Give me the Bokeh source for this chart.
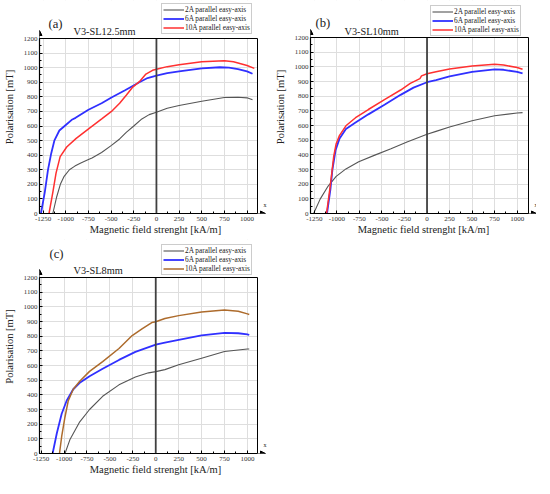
from bokeh.plotting import figure
from bokeh.models import (Legend, LegendItem, Label, SingleIntervalTicker, Range1d, Arrow,
                          NormalHead, BoxAnnotation, NumeralTickFormatter)
from bokeh.layouts import column, row
from bokeh.embed import file_html
from bokeh.resources import INLINE

FONT = "Liberation Serif"
Y0, Y1 = 0, 1200

# ---------------- data (a) V3-SL12.5mm ----------------
a_2A_h = [-1143, -1100, -1060, -1018, -960, -900, -840, -750, -711, -605, -496, -406, -333, -250, -170, -80, 0, 119, 250, 500, 750, 900, 1000, 1060]
a_2A_j = [0, 115, 200, 255, 300, 325, 345, 370, 380, 418, 467, 511, 556, 600, 644, 678, 694, 722, 740, 770, 795, 797, 793, 780]
a_6A_h = [-1274, -1232, -1196, -1161, -1125, -1071, -1000, -928, -892, -750, -605, -496, -351, -188, -98, 0, 119, 250, 500, 700, 800, 900, 1000, 1060]
a_6A_j = [0, 145, 301, 412, 502, 569, 607, 645, 656, 711, 756, 795, 844, 900, 929, 946, 962, 975, 995, 1003, 1000, 990, 975, 958]
a_10A_h = [-1185, -1143, -1107, -1062, -990, -885, -745, -600, -496, -406, -333, -261, -188, -116, -43, 0, 119, 250, 500, 750, 850, 1000, 1080]
a_10A_j = [0, 145, 279, 390, 456, 515, 582, 650, 700, 756, 811, 867, 904, 956, 982, 989, 1007, 1020, 1040, 1048, 1040, 1015, 995]

# ---------------- data (b) V3-SL10mm ----------------
b_2A_h = [-1258, -1186, -1097, -1008, -900, -758, -579, -400, -222, 0, 100, 250, 500, 750, 1000, 1060]
b_2A_j = [0, 98, 187, 253, 304, 353, 398, 442, 487, 540, 560, 590, 632, 667, 685, 688]
b_6A_h = [-1110, -1072, -1050, -1015, -972, -900, -793, -651, -472, -293, -150, 0, 100, 250, 500, 750, 850, 1000, 1060]
b_6A_j = [0, 164, 298, 431, 509, 576, 620, 676, 742, 809, 858, 895, 910, 935, 965, 982, 980, 965, 955]
b_10A_h = [-1115, -1079, -1061, -1036, -1008, -972, -900, -793, -651, -472, -293, -186, -79, -61, 0, 100, 250, 500, 750, 850, 1000, 1060]
b_10A_j = [0, 164, 253, 387, 476, 531, 598, 653, 709, 776, 842, 887, 920, 938, 953, 966, 985, 1005, 1018, 1012, 995, 983]

# ---------------- data (c) V3-SL8mm ----------------
c_2A_h = [-990, -937, -829, -722, -579, -401, -222, -79, 0, 100, 250, 500, 750, 1000, 1020]
c_2A_j = [0, 93, 216, 300, 390, 468, 522, 550, 558, 572, 605, 650, 695, 712, 712]
c_6A_h = [-1125, -1079, -1026, -972, -900, -829, -722, -579, -401, -222, 0, 100, 250, 500, 750, 900, 1000, 1020]
c_6A_j = [0, 138, 271, 360, 438, 482, 527, 578, 638, 693, 742, 756, 775, 805, 822, 820, 812, 808]
c_10A_h = [-1050, -1026, -990, -954, -900, -829, -722, -579, -401, -257, -150, -43, 0, 100, 250, 500, 750, 900, 1000, 1020]
c_10A_j = [0, 116, 249, 360, 438, 493, 560, 627, 716, 804, 849, 893, 898, 920, 940, 965, 978, 970, 952, 948]

series_names = ["2A parallel easy-axis", "6A parallel easy-axis", "10A parallel easy-axis"]
panel_titles = ["V3-SL12.5mm", "V3-SL10mm", "V3-SL8mm"]
panel_tags = ["(a)", "(b)", "(c)"]

GRAY = "#555555"
BLUE = "#3030ff"
RED = "#ff3030"
BROWN = "#ad6b2c"
LEG_H = 29


def make_panel(tag, title, curves, geo):
    W, H, L, R, T, B, X0, X1, tag_up, tag_dx, title_up, leg_x, leg_top = geo
    sx = (R - L) / (X1 - X0)     # px per unit
    sy = (B - T) / (Y1 - Y0)
    XR = X0 + (W - L) / sx
    YT = Y0 + B / sy

    def ux(px):
        return px / sx

    def uy(px):
        return px / sy

    p = figure(frame_width=W - L, frame_height=B, output_backend="svg", toolbar_location=None,
               x_range=Range1d(X0, XR), y_range=Range1d(Y0, YT),
               min_border_left=L, min_border_right=0, min_border_top=0, min_border_bottom=H - B,
               background_fill_color="white", border_fill_color="white")
    p.outline_line_color = None
    xt = SingleIntervalTicker(interval=250, num_minor_ticks=2)
    yt = SingleIntervalTicker(interval=100, num_minor_ticks=2)
    p.xaxis.ticker = xt
    p.yaxis.ticker = yt
    p.xaxis.bounds = (X0, X1)
    p.yaxis.bounds = (Y0, Y1)
    p.xaxis.formatter = NumeralTickFormatter(format="0")
    p.yaxis.formatter = NumeralTickFormatter(format="0")
    p.xaxis.axis_label = "Magnetic field strenght [kA/m]"
    p.yaxis.axis_label = "Polarisation [mT]"
    for ax in (p.xaxis[0], p.yaxis[0]):
        ax.axis_label_text_font = FONT
        ax.axis_label_text_font_style = "normal"
        ax.axis_label_text_font_size = "10.5px"
        ax.axis_label_text_color = "#222222"
        ax.major_label_text_font = FONT
        ax.major_label_text_font_size = "7px"
        ax.major_label_text_color = "#333333"
        ax.major_tick_in = 3
        ax.major_tick_out = 0
        ax.minor_tick_in = 2
        ax.minor_tick_out = 0
        ax.axis_line_color = "black"
        ax.axis_line_width = 1.2
        ax.major_tick_line_color = "black"
        ax.minor_tick_line_color = "black"
    p.xaxis.major_label_standoff = 3
    p.xaxis.axis_label_standoff = 0
    p.yaxis.major_label_standoff = 2
    p.yaxis.axis_label_standoff = 6
    p.xgrid.grid_line_color = "#dedede"
    p.ygrid.grid_line_color = "#dedede"
    p.xgrid.ticker = xt
    p.ygrid.ticker = yt

    # white cover outside the data box (top strip and right strip)
    p.add_layout(BoxAnnotation(bottom=Y1, fill_color="white", fill_alpha=1, line_alpha=0, level="underlay"))
    p.add_layout(BoxAnnotation(left=X1, fill_color="white", fill_alpha=1, line_alpha=0, level="underlay"))

    items = []
    for (hx, jy, color, lw), name in zip(curves, series_names):
        r = p.line(hx, jy, line_color=color, line_width=lw)
        items.append(LegendItem(label=name, renderers=[r]))

    # zero line and frame box
    p.add_layout(BoxAnnotation(left=0, right=0, bottom=Y0, top=Y1, fill_alpha=0,
                               line_color="#404040", line_alpha=1, line_width=1.8))
    p.add_layout(BoxAnnotation(left=X0, right=X1, bottom=Y0, top=Y1, fill_alpha=0,
                               line_color="black", line_alpha=1, line_width=1))

    leg = Legend(items=items, location=(leg_x, round(B - leg_top - LEG_H)), orientation="vertical",
                 label_text_font=FONT, label_text_font_size="7.3px", label_height=9,
                 glyph_height=9, glyph_width=21, label_standoff=1, spacing=0,
                 padding=1, margin=0, border_line_color="#9a9a9a", border_line_width=1,
                 background_fill_alpha=1.0, label_text_color="#222222")
    p.add_layout(leg, "center")

    p.add_layout(Label(x=X0 + ux(34), y=Y1 + uy(title_up - 2), text=title, text_baseline="bottom",
                       text_font=FONT, text_font_size="10.3px", text_color="#1a1a1a"))
    p.add_layout(Label(x=X0 + ux(tag_dx), y=Y1 + uy(tag_up - 2.5), text=tag, text_baseline="bottom",
                       text_font=FONT, text_font_size="12.7px", text_color="#1a1a1a"))
    # axis arrows
    p.add_layout(Arrow(end=NormalHead(size=5, fill_color="black", line_color="black"),
                       x_start=X0, y_start=Y1, x_end=X0, y_end=Y1 + uy(8),
                       line_color="black", line_width=1))
    p.add_layout(Arrow(end=NormalHead(size=5, fill_color="black", line_color="black"),
                       x_start=X1, y_start=Y0, x_end=X1 + ux(8), y_end=Y0,
                       line_color="black", line_width=1))
    p.add_layout(Label(x=X0 - ux(3), y=Y1 + uy(tag_up + 4), text="y", text_baseline="bottom",
                       text_font=FONT, text_font_size="6px", text_color="#222222"))
    p.add_layout(Label(x=X1 + ux(6), y=Y0 + uy(6), text="x", text_baseline="bottom",
                       text_font=FONT, text_font_size="6px", text_color="#222222"))
    return p


# panel geometry: W, H, data-box left/right/top/bottom (px in panel), X0, X1,
#                 tag baseline above box, tag dx, title baseline above box, legend x, legend top
geo_a = (270, 239, 38, 256, 38, 213, -1290, 1115, 10, 9, 4, 122, 5)
geo_b = (264, 239, 38, 256, 37, 213, -1293, 1126, 10, 5, 3, 120, 7)
geo_c = (270, 239, 38, 256, 38, 214, -1268, 1110, 19, 10, 4, 122, 7)

pa = make_panel(panel_tags[0], panel_titles[0], [
    (a_2A_h, a_2A_j, GRAY, 1.1), (a_6A_h, a_6A_j, BLUE, 1.8), (a_10A_h, a_10A_j, RED, 1.5)], geo_a)
pb = make_panel(panel_tags[1], panel_titles[1], [
    (b_2A_h, b_2A_j, GRAY, 1.1), (b_6A_h, b_6A_j, BLUE, 1.8), (b_10A_h, b_10A_j, RED, 1.5)], geo_b)
pc = make_panel(panel_tags[2], panel_titles[2], [
    (c_2A_h, c_2A_j, GRAY, 1.1), (c_6A_h, c_6A_j, BLUE, 1.8), (c_10A_h, c_10A_j, BROWN, 1.5)], geo_c)

layout = column(row(pa, pb), row(pc))
open("out.html", "w").write(file_html(layout, INLINE))
